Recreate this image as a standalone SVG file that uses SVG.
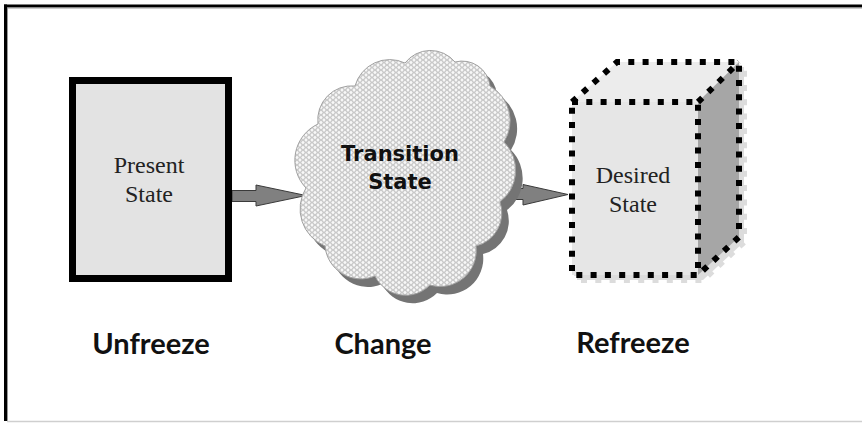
<svg xmlns="http://www.w3.org/2000/svg" width="862" height="423" viewBox="0 0 862 423">
  <style>
    .serif { font-family: "Liberation Serif", "Times New Roman", serif; font-size: 24px; fill: #222; text-anchor: middle; }
    .cloudtxt { font-family: "DejaVu Sans", Verdana, sans-serif; font-weight: bold; font-size: 21px; fill: #111; text-anchor: middle; }
    .stage { font-family: Lato, "Open Sans", sans-serif; font-weight: bold; font-size: 29px; fill: #111; text-anchor: middle; }
    .arrow { fill: #808080; stroke: #3a3a3a; stroke-width: 1; stroke-linejoin: miter; }
    .dots { fill: none; stroke: #000; stroke-width: 6; stroke-dasharray: 6 8.3; stroke-linecap: butt; }
  </style>
  <defs>
    <!-- small-circle lattice used as the cloud texture -->
    <pattern id="lattice" width="6" height="5" patternUnits="userSpaceOnUse">
      <rect width="6" height="5" fill="#f8f8f8"/>
      <circle cx="0" cy="0" r="2.3" fill="none" stroke="#bdbdbd" stroke-width="0.7"/>
      <circle cx="6" cy="0" r="2.3" fill="none" stroke="#bdbdbd" stroke-width="0.7"/>
      <circle cx="0" cy="5" r="2.3" fill="none" stroke="#bdbdbd" stroke-width="0.7"/>
      <circle cx="6" cy="5" r="2.3" fill="none" stroke="#bdbdbd" stroke-width="0.7"/>
      <circle cx="3" cy="2.5" r="2.3" fill="none" stroke="#bdbdbd" stroke-width="0.7"/>
    </pattern>
    <path id="cloudShape" d="M306,188
      A40,40 0 0 1 318,124
      A34,34 0 0 1 355,86
      A36,36 0 0 1 405,63
      A32,32 0 0 1 455,62
      A28,28 0 0 1 490,86
      A40,40 0 0 1 504,142
      A40,40 0 0 1 500,202
      A34,34 0 0 1 476,246
      A36,36 0 0 1 430,285
      A34,34 0 0 1 375,276
      A36,36 0 0 1 325,246
      A40,40 0 0 1 306,188 Z"/>
  </defs>

  <!-- page background and frame -->
  <rect width="862" height="423" fill="#fff"/>
  <line x1="4" y1="6" x2="862" y2="6" stroke="#000" stroke-width="3"/>
  <line x1="8" y1="8" x2="862" y2="8" stroke="#999" stroke-width="1"/>
  <line x1="5.5" y1="4.5" x2="5.5" y2="421" stroke="#000" stroke-width="3"/>
  <line x1="7.5" y1="8" x2="7.5" y2="421" stroke="#999" stroke-width="1"/>
  <line x1="7" y1="421.5" x2="862" y2="421.5" stroke="#cfcfcf" stroke-width="1.5"/>

  <!-- connectors -->
  <g id="connectors">
    <polygon class="arrow" points="232,190.5 256,190.5 256,185 306,195.5 256,206 256,201.5 232,201.5"/>
    <polygon class="arrow" points="511,188.5 523,188.5 523,184.5 568,194.5 523,205 523,199.5 511,199.5"/>
  </g>

  <!-- present state -->
  <g id="present-state">
    <rect x="72.5" y="80.5" width="156" height="198" fill="#e3e3e3" stroke="#000" stroke-width="7"/>
    <text class="serif" x="149" y="173">Present</text>
    <text class="serif" x="149" y="202">State</text>
  </g>

  <!-- transition state cloud -->
  <g id="transition-state">
    <use href="#cloudShape" transform="translate(7,8)" fill="#747474"/>
    <use href="#cloudShape" fill="url(#lattice)" stroke="#a0a0a0" stroke-width="1"/>
    <text class="cloudtxt" x="400" y="161">Transition</text>
    <text class="cloudtxt" x="400" y="189">State</text>
  </g>

  <!-- desired state cube -->
  <g id="desired-state">
    <g transform="translate(5,5)">
      <polygon points="572,102 617,62 739,62 739,237 698,275 572,275" fill="#dcdcdc"/>
      <polygon points="572,102 617,62 739,62 739,237 698,275 572,275" fill="none" stroke="#dcdcdc" stroke-width="6" stroke-dasharray="6 8.3"/>
    </g>
    <polygon points="572,102 617,62 739,62 698,102" fill="#ececec"/>
    <polygon points="698,102 739,62 739,237 698,275" fill="#a6a6a6"/>
    <rect x="572" y="102" width="126" height="173" fill="#e6e6e6"/>
    <path class="dots" d="M572,102 L617,62 L739,62 L739,237 L698,275"/>
    <path class="dots" d="M698,102 L739,62"/>
    <rect class="dots" x="572" y="102" width="126" height="173"/>
    <text class="serif" x="633" y="183">Desired</text>
    <text class="serif" x="633" y="212">State</text>
  </g>

  <!-- stage labels -->
  <g id="stage-labels">
    <text class="stage" x="151" y="354">Unfreeze</text>
    <text class="stage" x="383" y="354">Change</text>
    <text class="stage" x="633" y="353">Refreeze</text>
  </g>
</svg>
